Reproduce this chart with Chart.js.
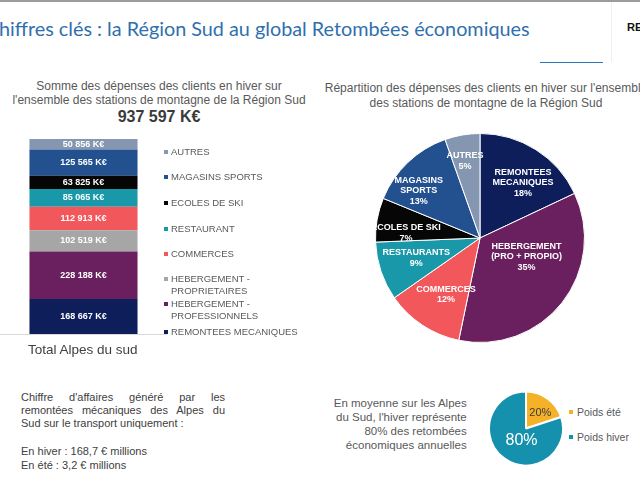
<!DOCTYPE html>
<html><head><meta charset="utf-8">
<script src="https://cdn.jsdelivr.net/npm/chart.js@4"></script>
<style>
html,body{margin:0;padding:0;width:640px;height:480px;overflow:hidden;background:#fff;font-family:"Liberation Sans",Arial,sans-serif;}
.abs{position:absolute;white-space:nowrap;}
canvas{position:absolute;}
</style></head><body>
<script>
// ---------- DATA ----------
const stackCategories = ['REMONTEES MECANIQUES','HEBERGEMENT - PROFESSIONNELS','HEBERGEMENT - PROPRIETAIRES','COMMERCES','RESTAURANT','ECOLES DE SKI','MAGASINS SPORTS','AUTRES'];
const stackLegendText = ['REMONTEES MECANIQUES','HEBERGEMENT -\nPROFESSIONNELS','HEBERGEMENT -\nPROPRIETAIRES','COMMERCES','RESTAURANT','ECOLES DE SKI','MAGASINS SPORTS','AUTRES'];
const stackValues = [168667, 228188, 102519, 112913, 85065, 63825, 125565, 50856];
const stackTotal = 937597;

const pieCategories = ['REMONTEES\nMECANIQUES','HEBERGEMENT\n(PRO + PROPIO)','COMMERCES','RESTAURANTS','ECOLES DE SKI','MAGASINS\nSPORTS','AUTRES'];
const pieValues = [168667, 330707, 112913, 85065, 63825, 125565, 50856];
const piePercentLabels = ['18%','35%','12%','9%','7%','13%','5%'];

const seasonCategories = ['Poids été','Poids hiver'];
const seasonValues = [20, 80];
const seasonPercentLabels = ['20%','80%'];
</script>

<div class="abs" style="left:0;top:0;width:640px;height:2px;background:#9c9c9c"></div>
<div class="abs" style="left:611px;top:2px;width:1px;height:60px;background:#efefef"></div>
<div class="abs" style="left:540px;top:62px;width:63px;height:1px;background:#2E75B6"></div>
<div id="title" class="abs" style="top:14px;left:0;color:#2F6FAE;font-family:Lato,'Open Sans',sans-serif;font-size:20px;line-height:28px;"><span id="tc">C</span><span id="trest">hiffres clés : la Région Sud au global Retombées économiques</span></div>
<div class="abs" style="left:627px;top:20px;font-weight:bold;font-size:11px;line-height:14px;color:#111">RE</div>

<div class="abs" style="left:0;top:78.6px;width:318px;text-align:center;font-size:12px;line-height:14.7px;color:#595959">Somme des dépenses des clients en hiver sur<br>l'ensemble des stations de montagne de la Région Sud</div>
<div class="abs" style="left:0;top:107.5px;width:318px;text-align:center;font-size:16px;line-height:18px;font-weight:bold;color:#3a3a3a">937 597 K€</div>

<div class="abs" style="left:186px;top:81px;width:600px;text-align:center;font-size:12px;line-height:15px;color:#595959">Répartition des dépenses des clients en hiver sur l'ensemble<br>des stations de montagne de la Région Sud</div>

<canvas id="bar" width="167" height="210" style="left:0;top:130px"></canvas>
<div class="abs" style="left:0;top:334px;width:167px;height:1px;background:#d9d9d9"></div>
<div id="barLegend"></div>

<canvas id="pie" width="210" height="210" style="left:375px;top:133px"></canvas>

<div class="abs" style="left:28px;top:342px;font-size:13.5px;line-height:16px;color:#404040">Total Alpes du sud</div>
<div class="abs" style="left:21px;top:390.8px;width:204px;font-size:11px;line-height:13.3px;color:#404040;white-space:normal">
  <div style="text-align:justify;text-align-last:justify">Chiffre d'affaires généré par les</div>
  <div style="text-align:justify;text-align-last:justify">remontées mécaniques des Alpes du</div>
  <div>Sud sur le transport uniquement :</div>
</div>
<div class="abs" style="left:21px;top:443.7px;font-size:11px;line-height:14.3px;color:#404040">En hiver : 168,7 € millions<br>En été : 3,2 € millions</div>

<div class="abs" style="left:266px;top:396px;width:200.7px;text-align:right;font-size:11.5px;line-height:14px;color:#595959">En moyenne sur les Alpes<br>du Sud, l'hiver représente<br>80% des retombées<br>économiques annuelles</div>
<canvas id="season" width="76" height="77" style="left:488px;top:390px"></canvas>
<div id="seasonLegend"></div>

<script>
// title fit
(function(){
  const t=document.getElementById('title');
  const c=document.getElementById('tc'), r=document.getElementById('trest');
  const target=531;
  const w=r.getBoundingClientRect().width;
  t.style.fontSize=(20*target/w)+'px';
  t.style.left=(-c.getBoundingClientRect().width-1)+'px';
})();

const barColors = ['#0D1E5B','#6A1F5E','#A6A6A6','#F2575B','#1898A8','#060606','#23518F','#8597B0'];
const pieColors = ['#0D1E5B','#6A1F5E','#F2575B','#1898A8','#060606','#23518F','#8597B0'];
const seasonColors = ['#F5B228','#1691AD'];

function fmtK(v){return String(v).replace(/\B(?=(\d{3})+(?!\d))/g,' ')+' K€';}

const barLabelPlugin = {
  id:'barLabels',
  afterDatasetsDraw(chart){
    const ctx=chart.ctx; ctx.save();
    ctx.font='bold 9px "Liberation Sans", Arial, sans-serif';
    ctx.fillStyle='#fff'; ctx.textAlign='center'; ctx.textBaseline='middle';
    chart.data.datasets.forEach((ds,i)=>{
      const el=chart.getDatasetMeta(i).data[0];
      const p=el.getProps(['x','y','base'],true);
      ctx.fillText(fmtK(ds.data[0]), p.x, (p.y+p.base)/2);
    });
    ctx.restore();
  }
};

new Chart(document.getElementById('bar'),{
  type:'bar',
  data:{labels:[''],datasets:stackCategories.map((c,i)=>({label:c,data:[stackValues[i]],backgroundColor:barColors[i],borderWidth:0,barPercentage:0.647,categoryPercentage:1}))},
  options:{responsive:false,animation:false,layout:{padding:{top:9,bottom:6,left:0,right:0}},
    scales:{x:{stacked:true,display:false},y:{stacked:true,display:false,min:0,max:stackTotal}},
    plugins:{legend:{display:false},tooltip:{enabled:false}}},
  plugins:[barLabelPlugin]
});

// bar legend (reverse order, top of stack first)
(function(){
  const lineCenters=[331.7,304,279,254,228.7,203,177,151.7];
  const host=document.getElementById('barLegend');
  stackLegendText.forEach((txt,i)=>{
    const d=document.createElement('div');
    d.className='abs';
    d.style.cssText=`left:164px;top:${lineCenters[i]-5.75}px;font-size:9.5px;line-height:11.5px;color:#595959;`;
    d.innerHTML=`<span style="display:inline-block;width:4px;height:4px;background:${barColors[i]};margin-right:3px;vertical-align:1px"></span>`+txt.split('\n').join('<br><span style="display:inline-block;width:7px"></span>');
    host.appendChild(d);
  });
})();

function makeSliceLabelPlugin(id, texts, placement){
  return {id, afterDatasetsDraw(chart){
    const ctx=chart.ctx; ctx.save(); ctx.textAlign='center'; ctx.textBaseline='middle';
    chart.getDatasetMeta(0).data.forEach((arc,i)=>{
      const p=arc.getProps(['x','y','outerRadius'],true);
      const pl=placement[i];
      const a=pl.angle*Math.PI/180;
      const cx=p.x+pl.f*p.outerRadius*Math.sin(a), cy=p.y-pl.f*p.outerRadius*Math.cos(a);
      ctx.font=pl.font; ctx.fillStyle=pl.color;
      const lines=texts[i];
      lines.forEach((ln,k)=>ctx.fillText(ln,cx,cy+(k-(lines.length-1)/2)*pl.lh));
    });
    ctx.restore();
  }};
}

const pieFont='bold 9px "Liberation Sans", Arial, sans-serif';
const piePlacement=[[38,0.67],[112,0.48],[211,0.63],[252.5,0.64],[274,0.71],[307.6,0.74],[349,0.75]]
  .map(([angle,f])=>({angle,f,font:pieFont,color:'#fff',lh:10.5}));
const pieTexts=pieCategories.map((c,i)=>c.split('\n').concat([piePercentLabels[i]]));

new Chart(document.getElementById('pie'),{
  type:'pie',
  data:{labels:pieCategories,datasets:[{data:pieValues,backgroundColor:pieColors,borderColor:'#fff',borderWidth:1}]},
  options:{responsive:false,animation:false,plugins:{legend:{display:false},tooltip:{enabled:false}}},
  plugins:[makeSliceLabelPlugin('pieLabels',pieTexts,piePlacement)]
});

const seasonPlacement=[
  {angle:42,f:0.58,font:'11px "Liberation Sans", Arial, sans-serif',color:'#3b3b3b',lh:12},
  {angle:200,f:0.35,font:'16px "Liberation Sans", Arial, sans-serif',color:'#fff',lh:16}
];
new Chart(document.getElementById('season'),{
  type:'pie',
  data:{labels:seasonCategories,datasets:[{data:seasonValues,backgroundColor:seasonColors,borderColor:'#fff',borderWidth:2}]},
  options:{responsive:false,animation:false,plugins:{legend:{display:false},tooltip:{enabled:false}}},
  plugins:[makeSliceLabelPlugin('seasonLabels',seasonPercentLabels.map(s=>[s]),seasonPlacement)]
});

(function(){
  const centers=[412.3,437.3];
  const host=document.getElementById('seasonLegend');
  seasonCategories.forEach((c,i)=>{
    const d=document.createElement('div'); d.className='abs';
    d.style.cssText=`left:569px;top:${centers[i]-6.5}px;font-size:10.5px;line-height:13px;color:#595959`;
    d.innerHTML=`<span style="display:inline-block;width:4px;height:4px;background:${seasonColors[i]};margin-right:4px;vertical-align:2px"></span>${c}`;
    host.appendChild(d);
  });
})();
</script>
</body></html>
